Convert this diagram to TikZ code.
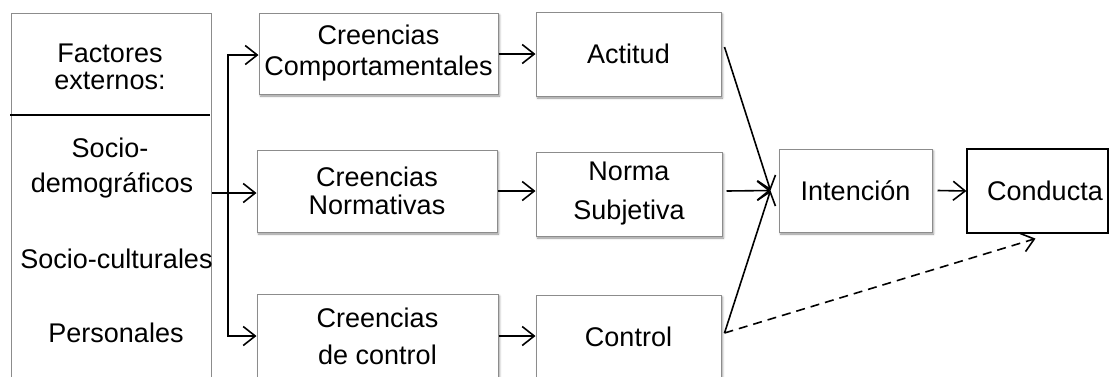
\documentclass[tikz,border=0pt]{standalone}
\usepackage{fontspec}
\setmainfont{Liberation Sans}
\usetikzlibrary{arrows.meta,shadows.blur,calc}
\begin{document}
\begin{tikzpicture}[x=1pt,y=-1pt,
  box/.style={draw=black!45, line width=1pt, fill=white, inner sep=0pt, align=center,
    font=\fontsize{27}{31}\selectfont,
    blur shadow={shadow xshift=1.5pt, shadow yshift=-2pt, shadow blur radius=2pt, shadow opacity=45}},
  txt/.style={font=\fontsize{27}{31}\selectfont, inner sep=0pt, anchor=base},
  arr/.style={line width=1.6pt, -{Straight Barb[length=12pt,width=19pt]}},
  dsh/.style={dash pattern=on 9pt off 6pt},
]
\useasboundingbox (0,0) rectangle (1109,376);
% left box
\node[draw=black!45, line width=1pt, minimum width=200pt, minimum height=370pt, inner sep=0pt, anchor=north west] (lb) at (11,13) {};
\draw[line width=1.5pt] ($(lb.north west)+(-1,102)$) -- ($(lb.north east)+(-2,102)$);
\node[txt] (f1) at (110,62) {Factores};
\node[txt] (f2) at (110,89) {externos:};
\node[txt] (s1) at (110,157) {Socio-};
\node[txt] (s2) at (112,192) {demográficos};
\node[txt] (s3) at (116.5,268) {Socio-culturales};
\node[txt] (s4) at (116,342) {Personales};
% boxes
\node[box, minimum width=239pt, minimum height=81pt] (cb) at (378.5,53.5) {Creencias\\Comportamentales};
\node[box, minimum width=185pt, minimum height=84pt] (act) at (628.5,54) {Actitud};
\node[box, minimum width=240pt, minimum height=82pt] (cn) at (377,191) {Creencias\\[-3pt]Normativas};
\node[box, minimum width=186pt, minimum height=84pt] (ns) at (629,194) {Norma\\[8pt]Subjetiva};
\node[box, minimum width=241pt, minimum height=84pt] (cc) at (377.5,336) {Creencias\\[6pt]de control};
\node[box, minimum width=185pt, minimum height=84pt] (ctl) at (628.5,337) {Control};
\node[box, minimum width=153pt, minimum height=83pt] (int) at (855.5,190.5) {Intención};
\node[draw=black, line width=1.2pt, fill=white, minimum width=141pt, minimum height=84pt, inner sep=0pt,
  font=\fontsize{27}{31}\selectfont] (cond) at (1037.5,191) {\hspace*{15pt}Conducta};
% connectors
\coordinate (bus) at (228,193);
\draw[arr] (bus) |- ([yshift=-1.5pt]cb.west);
\draw[arr] (bus) |- (cc.west);
\draw[arr] (lb.east |- bus) -- (cn.west |- bus);
\draw[arr] (cb.east |- act.west) -- (act.west);
\draw[arr] (cn.east) -- (cn.east -| ns.west);
\draw[arr] (cc.east) -- (cc.east -| ctl.west);
\coordinate (ip) at ([xshift=-8pt]int.west);
\draw[arr] ([xshift=3pt,yshift=7pt]act.east) -- (ip);
\draw[arr] ([xshift=4pt,yshift=3pt]ns.east) -- (ip);
\draw[arr] ([xshift=3pt,yshift=4pt]ctl.east) -- (ip);
\draw[arr] ([xshift=5pt]int.east) -- (cond.west);
\draw[arr, dsh] ([xshift=3pt,yshift=4pt]ctl.east) -- ([xshift=-2pt,yshift=-5pt]cond.south);
\end{tikzpicture}
\end{document}
